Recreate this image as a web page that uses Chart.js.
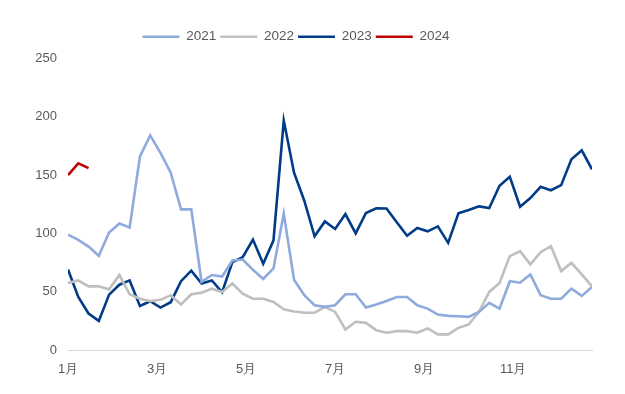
<!DOCTYPE html>
<html>
<head>
<meta charset="utf-8">
<script src="https://cdn.jsdelivr.net/npm/chart.js@4.4.1/dist/chart.umd.min.js"></script>
<style>
  html, body { margin: 0; padding: 0; background: #fff; }
</style>
</head>
<body>
<canvas id="chart" width="625" height="394"></canvas>
<script>
// data (weekly, 52 weeks)
const seriesNames = ['2021', '2022', '2023', '2024'];
const v2021 = [99, 94.5, 88.7, 80.8, 100.7, 108.4, 105, 166, 184, 169, 152, 120.6, 120.6, 58.5, 64.3, 63, 76.8, 77.6, 68.8, 61,
  70, 117, 60.3, 47, 38.4, 37, 38.4, 47.8, 47.8, 36.4, 39, 42, 45.5, 45.5, 38.4, 35.5, 30.4, 29.3, 29, 28.4,
  32.7, 40.4, 35.5, 59, 57.7, 64.8, 47, 44, 44, 52.6, 46.4, 54];
const v2022 = [57.5, 59.7, 54.6, 54.6, 52, 64.3, 47.8, 44, 41.8, 43, 47, 39, 47.8, 49.2, 52.6, 49.8, 57, 48.3, 44, 44,
  41.2, 35, 33, 32, 32, 37, 32.7, 17.6, 24.2, 23.3, 17, 14.8, 16.2, 16.2, 14.8, 18.5, 13.4, 13.4, 19, 21.9,
  32.7, 49.8, 57.5, 80.5, 84.7, 73.4, 83.9, 89, 67.7, 74.8, 64.8, 54.6];
const v2023 = [69.1, 45.5, 31.3, 25, 47.5, 56, 59.7, 37.8, 41.8, 36.4, 41, 59, 68, 57, 59.7, 49.5, 75.4, 79.6, 94.7, 74,
  94, 196.8, 152, 128, 97.5, 110.3, 103.8, 116.6, 100, 117.5, 121.5, 121.4, 109.5, 98, 104.7, 101.8, 106, 91.9, 117.2, 120,
  123.2, 121.7, 140.8, 148.5, 122.9, 130.3, 140, 137, 141.4, 163.6, 171.2, 155];
const v2024 = [150, 160, 156];
const monthLabels = ['1月', '3月', '5月', '7月', '9月', '11月'];
const yTicks = [0, 50, 100, 150, 200, 250];

const colors = ['#8FAADC', '#BFBFBF', '#023C88', '#C00000'];
const weeksPerMonth = 52 / 12;

function toPoints(arr) {
  return arr.map((v, i) => ({ x: i, y: v }));
}

const allSeries = [v2021, v2022, v2023, v2024];

// extra space under the legend
const legendGap = {
  id: 'legendGap',
  beforeInit(chart) {
    const fit = chart.legend.fit;
    chart.legend.fit = function () {
      fit.bind(chart.legend)();
      this.height += 5;
    };
  }
};

const ctx = document.getElementById('chart').getContext('2d');
Chart.defaults.font.family = '"Liberation Sans", Arial, sans-serif';
Chart.defaults.font.size = 13;
Chart.defaults.color = '#595959';

const chart = new Chart(ctx, {
  type: 'line',
  data: {
    datasets: allSeries.map((s, k) => ({
      label: seriesNames[k],
      data: toPoints(s),
      borderColor: colors[k],
      backgroundColor: colors[k],
      borderWidth: 2.6,
      pointRadius: 0,
      pointStyle: 'line',
      tension: 0,
      fill: false
    }))
  },
  plugins: [legendGap],
  options: {
    responsive: false,
    animation: false,
    layout: { padding: { top: 26, right: 33, bottom: 0, left: 0 } },
    plugins: {
      tooltip: { enabled: false },
      legend: {
        position: 'top',
        labels: {
          usePointStyle: true,
          pointStyleWidth: 37,
          boxHeight: 13,
          padding: 4,
          color: '#595959',
          font: { size: 13.5 }
        }
      }
    },
    scales: {
      x: {
        type: 'linear',
        min: 0,
        max: 51,
        afterBuildTicks: scale => {
          scale.ticks = monthLabels.map((m, i) => ({ value: i * 2 * weeksPerMonth }));
        },
        afterFit: scale => { scale.height = 44; },
        ticks: {
          autoSkip: false,
          maxRotation: 0,
          padding: 12,
          callback: (val, idx) => monthLabels[idx]
        },
        grid: { display: false, drawTicks: false },
        border: { display: true, color: '#D9D9D9', width: 1 }
      },
      y: {
        min: 0,
        max: 250,
        afterBuildTicks: scale => {
          scale.ticks = yTicks.map(v => ({ value: v }));
        },
        afterFit: scale => { scale.width = 68; },
        ticks: { padding: 11 },
        grid: { display: false, drawTicks: false },
        border: { display: false }
      }
    }
  }
});
</script>
</body>
</html>
